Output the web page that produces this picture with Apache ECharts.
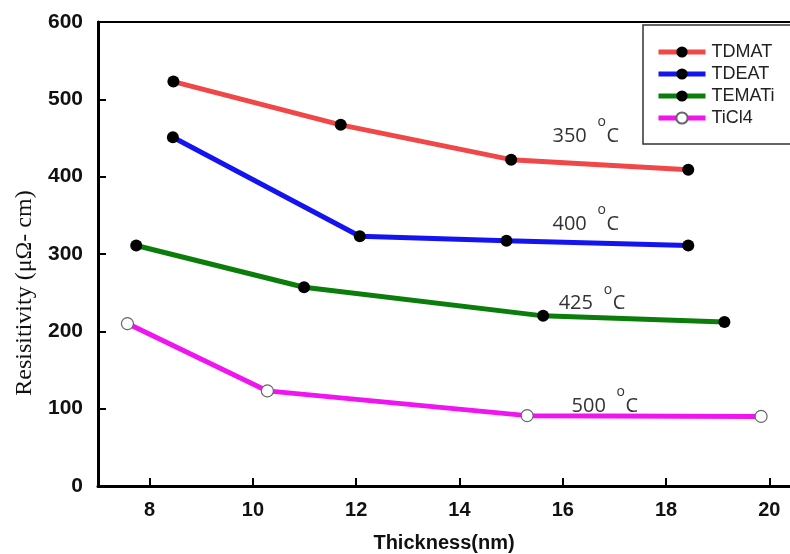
<!DOCTYPE html>
<html>
<head>
<meta charset="utf-8">
<script src="https://cdn.jsdelivr.net/npm/echarts@6/dist/echarts.min.js"></script>
<style>html,body{margin:0;padding:0;background:#fff}#c{width:790px;height:554px}</style>
</head>
<body>
<div id="c"></div>
<script>
// ---- data ----
const seriesNames = ["TDMAT", "TDEAT", "TEMATi", "TiCl4"];
const tdmatX = [8.46, 11.70, 15.00, 18.43];
const tdmatY = [523, 467, 422, 409];
const tdeatX = [8.45, 12.07, 14.91, 18.43];
const tdeatY = [451, 323, 317, 311];
const tematiX = [7.74, 10.99, 15.62, 19.13];
const tematiY = [311, 257, 220, 212];
const ticl4X = [7.57, 10.28, 15.31, 19.84];
const ticl4Y = [210, 123, 91, 90];
const xTicks = [8, 10, 12, 14, 16, 18, 20];
const tempLabels = ["350", "400", "425", "500"];
const tempAnchorX = [15.8, 15.8, 15.92, 16.17];
const tempAnchorY = [454, 340, 237, 105];

const colors = ["#f04848", "#1414f0", "#0a7d0a", "#f014f0"];
const xs = [tdmatX, tdeatX, tematiX, ticl4X];
const ys = [tdmatY, tdeatY, tematiY, ticl4Y];

function pairs(x, y) { return x.map((v, i) => [v, y[i]]); }

const series = seriesNames.map((name, i) => ({
  name: name,
  type: 'line',
  data: pairs(xs[i], ys[i]),
  symbol: 'circle',
  symbolSize: 12,
  showSymbol: true,
  lineStyle: { color: colors[i], width: 5 },
  itemStyle: i === 3
    ? { color: '#ffffff', borderColor: '#666', borderWidth: 1.2 }
    : { color: '#000000', borderColor: '#000', borderWidth: 0 },
  color: colors[i],
  z: 3,
  animation: false
}));

const chart = echarts.init(document.getElementById('c'), null, { renderer: 'canvas' });
chart.setOption({
  animation: false,
  backgroundColor: '#ffffff',
  grid: { left: 98, right: 0, top: 22, bottom: 68, containLabel: false, outerBoundsMode: 'none' },
  legend: {
    data: seriesNames,
    orient: 'vertical',
    left: 643, top: 25,
    padding: [18, 60, 17, 13],
    itemWidth: 47, itemHeight: 14, itemGap: 4,
    lineStyle: { width: 5 },
    borderColor: '#333', borderWidth: 1.5,
    backgroundColor: '#fff',
    textStyle: { fontFamily: 'Liberation Sans, Arial', fontSize: 18, color: '#222', padding: [0,0,0,1] }
  },
  xAxis: [{
    type: 'value', min: 7, max: 20.4,
    name: 'Thickness(nm)', nameLocation: 'middle', nameGap: 47,
    nameTextStyle: { fontFamily: 'Liberation Sans, Arial', fontWeight: 'bold', fontSize: 20, color: '#111' },
    axisLine: { show: true, lineStyle: { color: '#000', width: 3 } },
    axisTick: { show: true, inside: true, length: 8, lineStyle: { color: '#000', width: 2 }, customValues: xTicks },
    axisLabel: { customValues: xTicks, margin: 14, fontFamily: 'Liberation Sans, Arial', fontWeight: 'bold', fontSize: 20, color: '#111' },
    splitLine: { show: false }
  }, {
    type: 'value', min: 7, max: 20.4, position: 'top',
    axisLine: { show: true, lineStyle: { color: '#000', width: 2 } },
    axisTick: { show: false }, axisLabel: { show: false }, splitLine: { show: false }
  }],
  yAxis: {
    type: 'value', min: 0, max: 600, interval: 100,
    axisLine: { show: true, lineStyle: { color: '#000', width: 3 } },
    axisTick: { show: true, inside: true, length: 8, lineStyle: { color: '#000', width: 2 } },
    axisLabel: { margin: 15, fontFamily: 'Liberation Sans, Arial', fontWeight: 'bold', fontSize: 21, color: '#111' },
    splitLine: { show: false }
  },
  series: series
});

// annotations: temperature labels, anchored in data coordinates
const g = [];
tempLabels.forEach((t, i) => {
  const p = chart.convertToPixel({ xAxisIndex: 0, yAxisIndex: 0 }, [tempAnchorX[i], tempAnchorY[i]]);
  const font = 'normal 20px "Open Sans", sans-serif';
  g.push({ type: 'text', x: p[0], y: p[1] + 1, z: 10,
    style: { text: t, font: font, fill: '#333', verticalAlign: 'middle' } });
  g.push({ type: 'text', x: p[0] + 45, y: p[1] - 13, z: 10,
    style: { text: 'o', font: 'normal 14px "Open Sans", sans-serif', fill: '#333', verticalAlign: 'middle' } });
  g.push({ type: 'text', x: p[0] + 54, y: p[1] + 1, z: 10,
    style: { text: 'C', font: font, fill: '#333', verticalAlign: 'middle' } });
});
g.push({ type: 'text', x: 25, y: 293, rotation: Math.PI / 2, z: 10,
  style: { text: 'Resisitivity (\u03bc\u03a9- cm)', font: 'normal 24px "Liberation Serif", "Times New Roman", serif',
    fill: '#111', align: 'center', verticalAlign: 'middle' } });
chart.setOption({ graphic: g });
</script>
</body>
</html>
